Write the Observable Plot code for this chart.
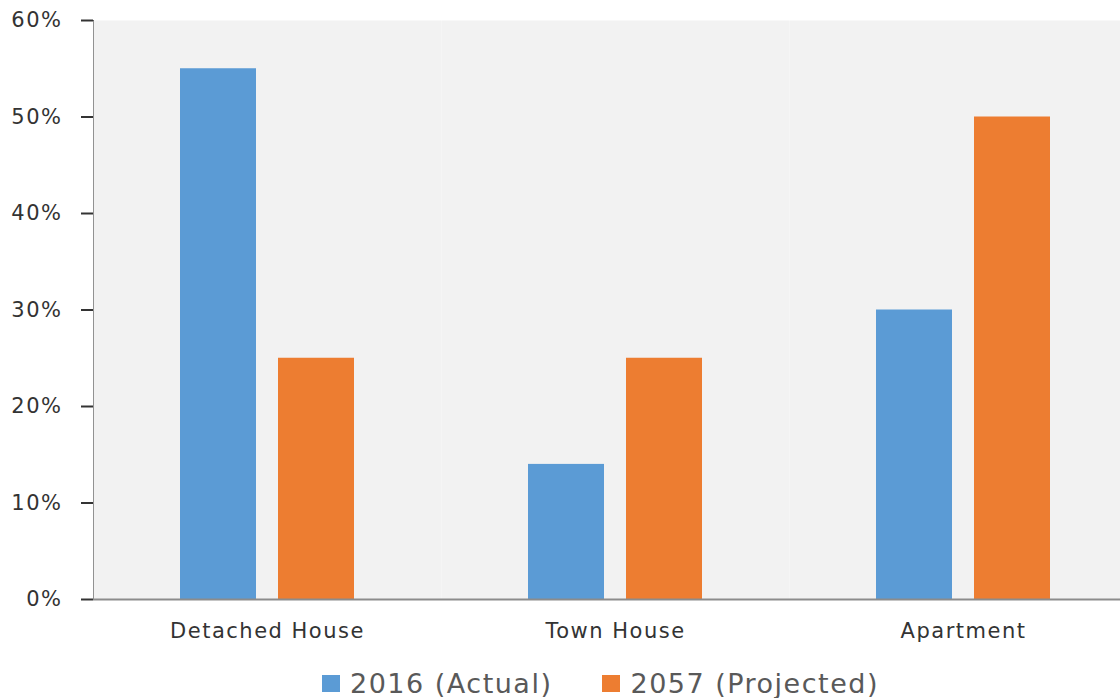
<!DOCTYPE html>
<html>
<head>
<meta charset="utf-8">
<script src="https://cdn.jsdelivr.net/npm/d3@7"></script>
<script src="https://cdn.jsdelivr.net/npm/@observablehq/plot@0.6"></script>
<style>
  html, body { margin: 0; padding: 0; background: #fff; overflow: hidden; width: 1120px; height: 698px; }
  #chart svg { display: block; }
  #legend { display: flex; align-items: center; height: 66px; padding-left: 322px;
    font-family: "DejaVu Sans", sans-serif; font-size: 27px; letter-spacing: 1.5px; color: #595959; }
  .sw { width: 18px; height: 17px; display: inline-block; margin-right: 10px; }
  .item { display: flex; align-items: center; margin-right: 50px; white-space: nowrap; }
</style>
</head>
<body>
<div id="chart"></div>
<div id="legend"></div>
<script>
const categories = ["Detached House", "Town House", "Apartment"];
const series = ["2016 (Actual)", "2057 (Projected)"];
const actual2016 = [55, 14, 30];
const projected2057 = [25, 25, 50];
const yTicks = [0, 10, 20, 30, 40, 50, 60];
const colors = ["#5b9bd5", "#ed7d31"];

const data = categories.flatMap((c, i) => [
  {category: c, series: series[0], value: actual2016[i]},
  {category: c, series: series[1], value: projected2057[i]}
]);

const chart = Plot.plot({
  width: 1120,
  height: 650,
  marginLeft: 93,
  marginRight: -17,
  marginTop: 20,
  marginBottom: 51,
  style: {fontFamily: "DejaVu Sans, sans-serif", fontSize: "21px", letterSpacing: "1.5px", color: "#333333", background: "transparent", overflow: "visible"},
  fx: {domain: categories, padding: 0, label: null, tickSize: 0, tickPadding: 24, axis: "bottom"},
  x: {domain: series, paddingInner: 0.222, paddingOuter: 0.879, axis: null},
  y: {domain: [0, 60], ticks: yTicks, tickFormat: d => d + "%", tickSize: 12, tickPadding: 19, line: true, label: null},
  color: {domain: series, range: colors},
  marks: [
    Plot.frame({fill: "#f2f2f2", stroke: null}),
    Plot.barY(data, {fx: "category", x: "series", y: "value", fill: "series"}),
    Plot.ruleY([0], {stroke: "#8c8c8c", strokeWidth: 2})
  ]
});
d3.select(chart).selectAll("[aria-label='y-axis tick'], [aria-label='y-axis line']").attr("stroke", "#8c8c8c").attr("stroke-width", 2);
document.getElementById("chart").appendChild(chart);

const legend = d3.select("#legend");
series.forEach((s, i) => {
  const it = legend.append("div").attr("class", "item");
  it.append("span").attr("class", "sw").style("background", colors[i]);
  it.append("span").text(s);
});
</script>
</body>
</html>
